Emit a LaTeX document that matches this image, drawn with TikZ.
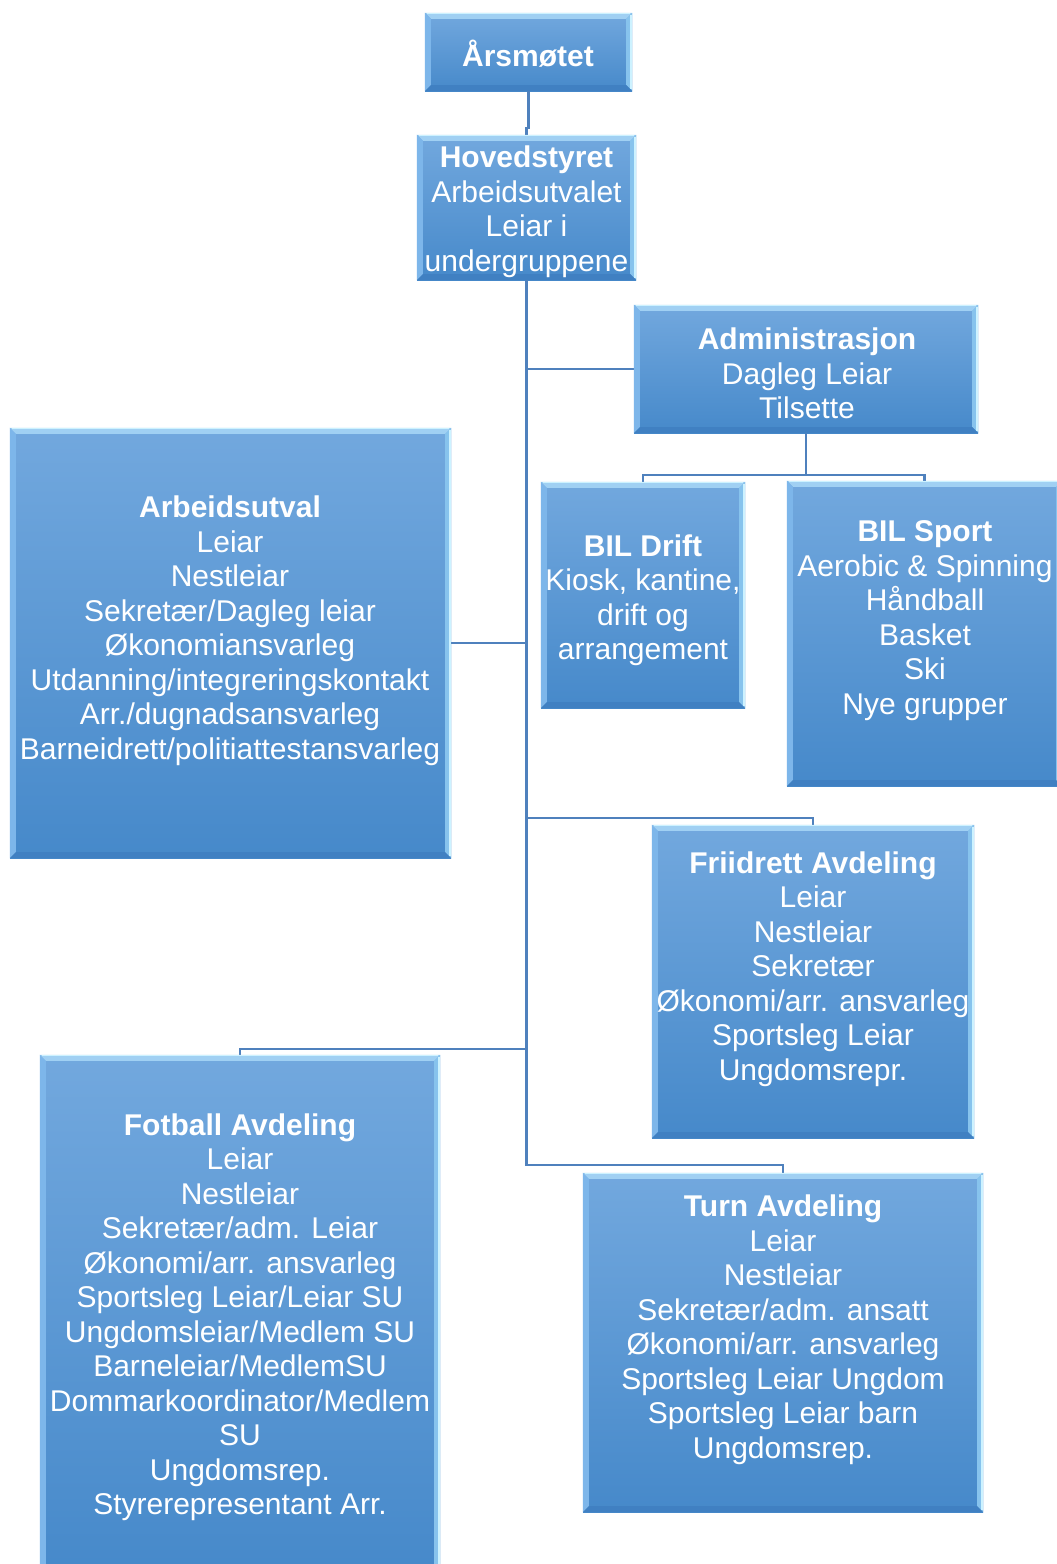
\documentclass[tikz,border=0pt]{standalone}
\usepackage{fontspec}
\setmainfont{Liberation Sans}
\usetikzlibrary{calc}
\definecolor{boxtop}{RGB}{114,168,222}
\definecolor{boxbot}{RGB}{70,137,202}
\definecolor{bevT}{RGB}{160,208,243}
\definecolor{bevL}{RGB}{125,182,234}
\definecolor{bevR}{RGB}{135,195,237}
\definecolor{bevB}{RGB}{64,128,194}
\definecolor{paleedge}{RGB}{205,242,255}
\definecolor{connblue}{RGB}{79,129,189}
\tikzset{
  box/.style={rectangle, draw=none, inner sep=0pt, top color=boxtop, bottom color=boxbot},
  txt/.style={text=white, align=center, inner sep=0pt, font=\fontsize{30}{34.5}\selectfont},
  conn/.style={draw=connblue, line width=2.5pt},
}
\newcommand{\bevel}[1]{%
  \fill[bevT] (#1.north west) -- (#1.north east) -- ([shift={(-6,6)}]#1.north east) -- ([shift={(6,6)}]#1.north west) -- cycle;
  \fill[bevL] (#1.north west) -- ([shift={(6,6)}]#1.north west) -- ([shift={(6,-6)}]#1.south west) -- (#1.south west) -- cycle;
  \fill[bevR] (#1.north east) -- ([shift={(-6,6)}]#1.north east) -- ([shift={(-6,-6)}]#1.south east) -- (#1.south east) -- cycle;
  \fill[bevB] (#1.south west) -- ([shift={(6,-6)}]#1.south west) -- ([shift={(-6,-6)}]#1.south east) -- (#1.south east) -- cycle;
  \draw[paleedge, line width=1.5pt] ([shift={(-1,2)}]#1.north east) -- ([shift={(-1,-2)}]#1.south east);
  \draw[paleedge, line width=1pt] ([shift={(2,1)}]#1.north west) -- ([shift={(-2,1)}]#1.north east);
}
\begin{document}
\begin{tikzpicture}[x=1pt,y=-1pt]
\useasboundingbox (0,0) rectangle (1057,1564);
\fill[white] (0,0) rectangle (1057,1564);

% boxes
\node[box, minimum width=207, minimum height=78] (ars) at (528.5,52) {};
\node[box, minimum width=219, minimum height=145] (hov) at (526.5,207.5) {};
\node[box, minimum width=344, minimum height=128] (adm) at (806,369) {};
\node[box, minimum width=441, minimum height=430] (arb) at (230.5,643) {};
\node[box, minimum width=204, minimum height=226] (drift) at (643,595) {};
\node[box, minimum width=275, minimum height=305] (sport) at (924.5,633.5) {};
\node[box, minimum width=322, minimum height=313] (fri) at (813,981.5) {};
\node[box, minimum width=400, minimum height=520] (fot) at (240,1315) {};
\node[box, minimum width=400, minimum height=339] (turn) at (783,1342.5) {};

% connectors
\draw[conn] (ars.south) -- ++(0,37) -| (hov.north);
\draw[conn] (hov.south) |- ([yshift=8pt]turn.north) -- (turn.north);
\draw[conn] (adm.west) -- (adm.west -| hov.south);
\draw[conn] (arb.east) -- (arb.east -| hov.south);
\draw[conn] (fri.north) -- ([yshift=7pt]fri.north) -- ([yshift=7pt]fri.north -| hov.south);
\draw[conn] (fot.north) -- ([yshift=6pt]fot.north) -- ([yshift=6pt]fot.north -| hov.south);
\draw[conn] (adm.south) -- ++(0,42) -| (drift.north);
\draw[conn] (adm.south) -- ++(0,42) -| (sport.north);

% bevels
\bevel{ars}\bevel{hov}\bevel{adm}\bevel{arb}\bevel{drift}\bevel{sport}\bevel{fri}\bevel{fot}\bevel{turn}

% texts
\node[txt] (arsT) at (528,54) {\textbf{Årsmøtet}};
\node[txt] (hovT) at (526.5,211.5) {\textbf{Hovedstyret}\\Arbeidsutvalet\\Leiar i\\undergruppene};
\node[txt] (admT) at (807,373.5) {\textbf{Administrasjon}\\Dagleg Leiar\\Tilsette};
\node[txt] (arbT) at (230,630.5) {\textbf{Arbeidsutval}\\Leiar\\Nestleiar\\Sekretær/Dagleg leiar\\Økonomiansvarleg\\Utdanning/integreringskontakt\\Arr./dugnadsansvarleg\\Barneidrett/politiattestansvarleg};
\node[txt] (driftT) at (643,600) {\textbf{BIL Drift}\\Kiosk, kantine,\\drift og\\arrangement};
\node[txt] (sportT) at (925,620.5) {\textbf{BIL Sport}\\Aerobic \& Spinning\\Håndball\\Basket\\Ski\\Nye grupper};
\node[txt] (friT) at (813,969) {\textbf{Friidrett Avdeling}\\Leiar\\Nestleiar\\Sekretær\\Økonomi/arr. ansvarleg\\Sportsleg Leiar\\Ungdomsrepr.};
\node[txt] (fotT) at (240,1317) {\textbf{Fotball Avdeling}\\Leiar\\Nestleiar\\Sekretær/adm. Leiar\\Økonomi/arr. ansvarleg\\Sportsleg Leiar/Leiar SU\\Ungdomsleiar/Medlem SU\\Barneleiar/MedlemSU\\Dommarkoordinator/Medlem\\SU\\Ungdomsrep.\\Styrerepresentant Arr.};
\node[txt] (turnT) at (783,1329.5) {\textbf{Turn Avdeling}\\Leiar\\Nestleiar\\Sekretær/adm. ansatt\\Økonomi/arr. ansvarleg\\Sportsleg Leiar Ungdom\\Sportsleg Leiar barn\\Ungdomsrep.};
\end{tikzpicture}
\end{document}
